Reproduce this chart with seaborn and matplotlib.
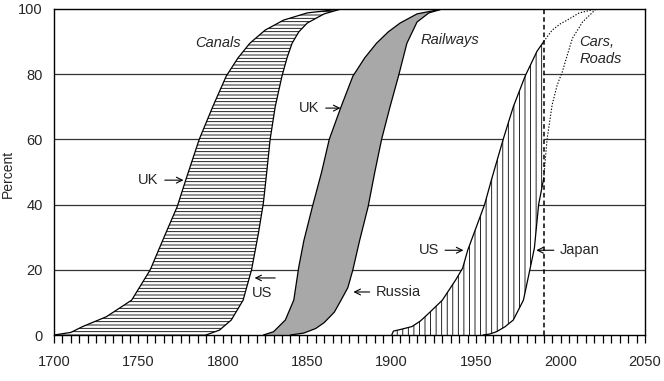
import matplotlib
matplotlib.use('Agg')
from matplotlib import pyplot as plt
import seaborn as sns

# curves (year, percent)
canal_uk_year = [1700, 1710, 1717, 1731, 1746, 1757, 1766, 1773, 1778, 1786, 1794, 1802, 1809, 1816, 1825, 1836, 1850, 1870]
canal_uk_pct = [0, 0.8, 2.6, 5.6, 10.7, 20, 31, 39.4, 47.5, 60, 70, 79.4, 85, 89.5, 93.5, 96.6, 98.8, 100]

canal_us_year = [1790, 1798, 1805, 1812, 1817, 1821, 1824, 1826, 1828, 1831, 1835, 1838, 1841, 1845, 1850, 1860, 1870]
canal_us_pct = [0, 1.5, 4.6, 10.7, 20, 31, 40.5, 50, 60, 70, 79.4, 85, 89.5, 93, 95.7, 98.5, 100]

rail_uk_year = [1824, 1830, 1837, 1842, 1845, 1848, 1853, 1858.5, 1863, 1870, 1877, 1884, 1891, 1898, 1905, 1915, 1930]
rail_uk_pct = [0, 1, 4.6, 10.7, 21, 29, 39.3, 50, 60, 70, 79.4, 85, 89.5, 93, 95.7, 98.5, 100]

rail_ru_year = [1840, 1848, 1855, 1860, 1866, 1870, 1874, 1877, 1881, 1886, 1890, 1894, 1899, 1904, 1909, 1915, 1922, 1930]
rail_ru_pct = [0, 0.6, 2, 3.8, 7, 10.7, 14.5, 20, 29, 39.3, 50, 60, 70, 79.4, 89.5, 96, 98.8, 100]

car_us_year = [1900, 1901, 1906, 1912, 1917, 1922, 1930, 1938, 1942, 1945, 1950, 1955, 1959, 1966, 1972, 1979, 1986, 1990]
car_us_pct = [0, 1.2, 1.8, 2.6, 4.3, 6.7, 10.7, 17, 20.5, 26, 33, 40, 47.5, 60, 70, 79.4, 87, 90]
car_us_proj_year = [1990, 1995, 2000, 2004, 2011, 2021]
car_us_proj_pct = [90, 93.5, 95.5, 96.6, 98.8, 100]

japan_year = [1954, 1958, 1962, 1967, 1972, 1978, 1982, 1984.5, 1987, 1990]
japan_pct = [0, 0.3, 1, 2.5, 4.6, 10.7, 20.5, 26.7, 40, 48]
japan_proj_year = [1990, 1992, 1995, 1998, 2001, 2004, 2007, 2013, 2021]
japan_proj_pct = [48, 60, 70.6, 76.7, 80.7, 85.9, 91, 96, 100]

year_ticks = [1700, 1750, 1800, 1850, 1900, 1950, 2000, 2050]
pct_ticks = [0, 20, 40, 60, 80, 100]

sns.set_style('white')
plt.rcParams['font.family'] = ['Liberation Sans', 'DejaVu Sans']
plt.rcParams['hatch.linewidth'] = 0.6
plt.rcParams['hatch.color'] = 'black'

fig, ax = plt.subplots(figsize=(6.64, 3.81), dpi=100)
fig.subplots_adjust(left=0.0813, right=0.9714, bottom=0.1207, top=0.9764)

# grid first, everything else on top
for p in pct_ticks[1:-1]:
    ax.axhline(p, color='#333333', lw=0.9, zorder=0.5)

# shaded bands
ax.fill(canal_uk_year + canal_us_year[::-1], canal_uk_pct + canal_us_pct[::-1],
        facecolor='white', edgecolor='black', linewidth=0, hatch='-----', zorder=1)
ax.fill(rail_uk_year + rail_ru_year[::-1], rail_uk_pct + rail_ru_pct[::-1],
        facecolor='#a8a8a8', edgecolor='none', zorder=1)
ax.fill(car_us_year + japan_year[::-1], car_us_pct + japan_pct[::-1],
        facecolor='white', edgecolor='black', linewidth=0, hatch='|||', zorder=1)

solid = [(canal_uk_year, canal_uk_pct), (canal_us_year, canal_us_pct),
         (rail_uk_year, rail_uk_pct), (rail_ru_year, rail_ru_pct),
         (car_us_year, car_us_pct), (japan_year, japan_pct)]
for xs, ys in solid:
    sns.lineplot(x=xs, y=ys, ax=ax, color='black', lw=0.9, sort=False, estimator=None,
                 zorder=3, solid_joinstyle='round')
for xs, ys in [(car_us_proj_year, car_us_proj_pct), (japan_proj_year, japan_proj_pct)]:
    sns.lineplot(x=xs, y=ys, ax=ax, color='black', lw=0.8, linestyle=(0, (1.2, 1.5)),
                 sort=False, estimator=None, zorder=3)

ax.axvline(1990, color='black', lw=1.1, linestyle=(0, (3, 2)), zorder=3)

# labels
fs = 10.5
ax.text(1797, 89.6, 'Canals', fontsize=fs, style='italic', ha='center', va='center')
ax.text(1934.5, 90.5, 'Railways', fontsize=fs, style='italic', ha='center', va='center')
ax.text(2011, 87.2, 'Cars,\nRoads', fontsize=fs, style='italic', ha='left', va='center', linespacing=1.25)

arr = dict(arrowstyle='->', color='black', lw=0.8, shrinkA=2, shrinkB=1)
ax.annotate('UK', xy=(1777.5, 47.5), xytext=(1756, 47.5), fontsize=fs, ha='center', va='center', arrowprops=arr)
ax.annotate('', xy=(1818, 17.5), xytext=(1831, 17.5), arrowprops=dict(arr, shrinkA=0))
ax.text(1823.5, 13, 'US', fontsize=fs, ha='center', va='center')
ax.annotate('UK', xy=(1870.5, 69.6), xytext=(1851.3, 69.6), fontsize=fs, ha='center', va='center', arrowprops=arr)
ax.annotate('Russia', xy=(1876.5, 13.2), xytext=(1890.5, 13.2), fontsize=fs, ha='left', va='center', arrowprops=arr)
ax.annotate('US', xy=(1943.3, 26), xytext=(1922, 26), fontsize=fs, ha='center', va='center', arrowprops=arr)
ax.annotate('Japan', xy=(1984.8, 26), xytext=(1999.6, 26), fontsize=fs, ha='left', va='center', arrowprops=arr)

ax.set_xlim(1700, 2050)
ax.set_ylim(0, 100)
ax.set_xticks(year_ticks)
ax.set_xticks(range(1700, 2051, 5), minor=True)
ax.set_yticks(pct_ticks)
ax.tick_params(axis='x', which='both', direction='out', length=6, width=0.9, color='black',
               bottom=True, pad=8.5, labelsize=fs)
ax.tick_params(axis='y', length=0, pad=8, labelsize=fs)
ax.set_ylabel('')
ax.set_xlabel('')
fig.text(8 / 664, 1 - 174 / 381, 'Percent', rotation=90, fontsize=10, ha='center', va='center')

for s in ax.spines.values():
    s.set_visible(True)
    s.set_color('black')
    s.set_linewidth(1.0)

fig.savefig('out.png', dpi=100)
